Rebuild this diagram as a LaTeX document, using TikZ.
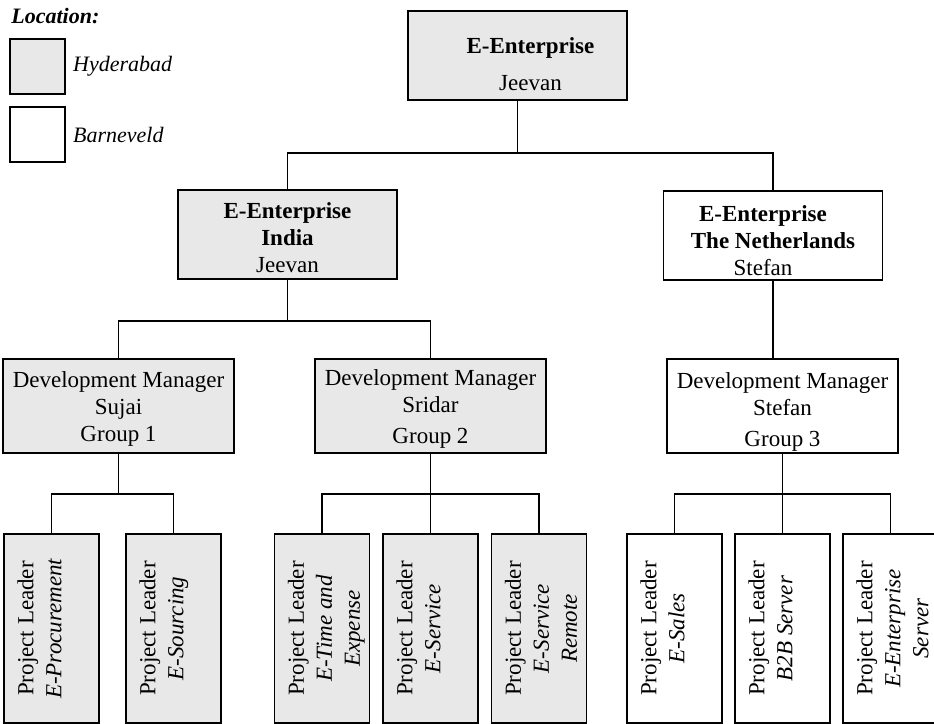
\documentclass[tikz,border=0pt]{standalone}
\usepackage{fontspec}
\setmainfont{Liberation Serif}
\usetikzlibrary{positioning}
\definecolor{hydgray}{RGB}{232,232,232}
% rotated text of a project leader box
\newcommand{\leadertext}[1]{\rotatebox{90}{\parbox[c][44pt][t]{92pt}{\centering\fontsize{11.5}{14}\selectfont\vspace*{5pt}Project Leader\\\textit{#1}}}}

\begin{document}
\begin{tikzpicture}[x=0.5pt, y=-0.5pt, line width=0.75pt,
  unit/.style={draw, inner sep=0pt, align=center, font=\fontsize{11.5}{13.5}\selectfont},
  hyd/.style={unit, fill=hydgray},
  ned/.style={unit, fill=white},
  topbox/.style={minimum width=109.5pt, minimum height=44.5pt},
  dmbox/.style={minimum width=115.5pt, minimum height=47pt},
  leader/.style={minimum width=47.5pt, minimum height=94.5pt},
  legbox/.style={draw, minimum size=27.5pt, inner sep=0pt},
  legtext/.style={font=\fontsize{11}{13}\selectfont\itshape}]
  \useasboundingbox (0,0) rectangle (934,724);

  % legend
  \node[anchor=west, font=\fontsize{11}{13}\selectfont\bfseries\itshape] (loc) at (4,16) {Location:};
  \node[legbox, fill=hydgray] (leghyd) at (37.5,66.5) {};
  \node[legbox, fill=white] (legned) at (37.5,134.5) {};
  \node[legtext, right=0pt of leghyd] {Hyderabad};
  \node[legtext, right=0pt of legned] {Barneveld};

  % top levels
  \node[hyd, topbox] (ent) at (517.5,55.5) {\rule{0pt}{17pt}\hspace*{13pt}\textbf{E-Enterprise}\\[5pt]\hspace*{13pt}Jeevan};
  \node[hyd, topbox] (india) at (287.5,234.5) {\rule{0pt}{11pt}\textbf{E-Enterprise}\\\textbf{India}\\Jeevan};
  \node[ned, topbox] (nl) at (773,235.5) {\rule{0pt}{13pt}\textbf{E-Enterprise}\hspace*{10pt}\\\textbf{The Netherlands}\hspace*{10pt}\\Stefan\hspace*{10pt}};

  % development managers
  \node[hyd, dmbox] (dm1) at (118.5,406) {\rule{0pt}{11pt}Development Manager\\Sujai\\Group 1};
  \node[hyd, dmbox] (dm2) at (430.5,406) {\rule{0pt}{11pt}Development Manager\\Sridar\\[2pt]Group 2};
  \node[ned, dmbox] (dm3) at (782.5,406) {\rule{0pt}{14pt}Development Manager\\Stefan\\[2pt]Group 3};

  % project leaders
  \node[hyd, leader] (pl1) at (51.5,628.5) {\leadertext{E-Procurement}};
  \node[hyd, leader] (pl2) at (173.5,628.5) {\leadertext{E-Sourcing}};
  \node[hyd, leader] (pl3) at (322,628.5) {\leadertext{E-Time and\\Expense}};
  \node[hyd, leader] (pl4) at (430.5,628.5) {\leadertext{E-Service}};
  \node[hyd, leader] (pl5) at (539,628.5) {\leadertext{E-Service\\Remote}};
  \node[ned, leader] (pl6) at (674.5,628.5) {\leadertext{E-Sales}};
  \node[ned, leader] (pl7) at (782.5,628.5) {\leadertext{B2B Server}};
  \node[ned, leader] (pl8) at (890.5,628.5) {\leadertext{E-Enterprise\\Server}};

  % connectors
  \draw (ent.south) -- ++(0,52) coordinate (bus0);
  \draw (india.north) |- (bus0) -| (nl.north);
  \draw (india.south) -- ++(0,41) coordinate (bus1);
  \draw (dm1.north) |- (bus1) -| (dm2.north);
  \draw (nl.south) -- (nl.south |- dm3.north);
  \draw (dm1.south) -- ++(0,40) coordinate (bus2);
  \draw (pl1.north) |- (bus2) -| (pl2.north);
  \draw (dm2.south) -- ++(0,40) coordinate (bus3);
  \draw (pl3.north) |- (bus3) -| (pl5.north);
  \draw (bus3) -- (bus3 |- pl4.north);
  \draw (dm3.south) -- ++(0,40) coordinate (bus4);
  \draw (pl6.north) |- (bus4) -| (pl8.north);
  \draw (bus4) -- (bus4 |- pl7.north);
\end{tikzpicture}
\end{document}
